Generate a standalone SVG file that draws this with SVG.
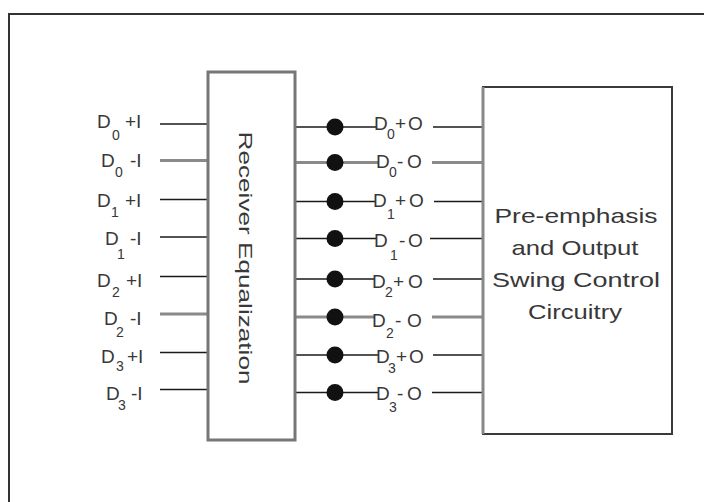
<svg xmlns="http://www.w3.org/2000/svg" width="704" height="502" viewBox="0 0 704 502">
<style>
text{font-family:"Liberation Sans",Arial,sans-serif;fill:#383838;font-size:19px}
.sub{font-size:14px}
.big{font-size:21px;text-anchor:middle}
.k{stroke:#1a1a1a;stroke-width:1.6;fill:none}
.g{stroke:#8a8a8a;stroke-width:3;fill:none}
.dot{fill:#111}
</style>
<rect width="704" height="502" fill="#fff"/>
<path d="M9,502 V14 H704" fill="none" stroke="#333" stroke-width="2"/>
<g id="connectors">
  <line class="k" x1="160" y1="124" x2="208" y2="124"/>
  <line class="g" x1="160" y1="160.5" x2="208" y2="160.5"/>
  <line class="k" x1="160" y1="199.5" x2="208" y2="199.5"/>
  <line class="k" x1="160" y1="237" x2="208" y2="237"/>
  <line class="k" x1="160" y1="276.5" x2="208" y2="276.5"/>
  <line class="g" x1="160" y1="314" x2="208" y2="314"/>
  <line class="k" x1="160" y1="352.5" x2="208" y2="352.5"/>
  <line class="k" x1="160" y1="389.5" x2="208" y2="389.5"/>

  <line class="k" x1="295" y1="127" x2="376" y2="127"/>
  <line class="k" x1="433" y1="127" x2="483" y2="127"/>
  <line class="g" x1="295" y1="162.5" x2="378" y2="162.5"/>
  <line class="g" x1="432" y1="162.5" x2="483" y2="162.5"/>
  <line class="k" x1="295" y1="201.5" x2="375" y2="201.5"/>
  <line class="k" x1="434" y1="201.5" x2="483" y2="201.5"/>
  <line class="k" x1="295" y1="238.5" x2="376" y2="238.5"/>
  <line class="k" x1="430" y1="238.5" x2="483" y2="238.5"/>
  <line class="k" x1="295" y1="279" x2="374" y2="279"/>
  <line class="k" x1="433" y1="279" x2="483" y2="279"/>
  <line class="g" x1="295" y1="317" x2="374" y2="317"/>
  <line class="g" x1="432" y1="317" x2="483" y2="317"/>
  <line class="k" x1="295" y1="355" x2="378" y2="355"/>
  <line class="k" x1="433" y1="355" x2="483" y2="355"/>
  <line class="k" x1="295" y1="392.5" x2="378" y2="392.5"/>
  <line class="k" x1="432" y1="392.5" x2="483" y2="392.5"/>
</g>
<g id="receiver-equalization">
  <rect x="208" y="72" width="87" height="368" fill="#fff" stroke="#777" stroke-width="3"/>
  <text transform="translate(239,258) rotate(90)" text-anchor="middle" font-size="20" textLength="253" lengthAdjust="spacingAndGlyphs">Receiver Equalization</text>
</g>
<g id="pre-emphasis">
  <rect x="483" y="87" width="189" height="347" fill="#fff" stroke="#3a3a3a" stroke-width="2"/>
  <line x1="483" y1="87" x2="483" y2="434" stroke="#888" stroke-width="3"/>
  <text class="big" x="576" y="223" textLength="163" lengthAdjust="spacingAndGlyphs">Pre-emphasis</text>
  <text class="big" x="575" y="255" textLength="127" lengthAdjust="spacingAndGlyphs">and Output</text>
  <text class="big" x="576" y="287" textLength="168" lengthAdjust="spacingAndGlyphs">Swing Control</text>
  <text class="big" x="575" y="319" textLength="94" lengthAdjust="spacingAndGlyphs">Circuitry</text>
</g>
<g id="input-labels">
  <text id="in-d0p" x="97" y="128">D<tspan class="sub" x="112" y="140">0</tspan><tspan x="125" y="128">+I</tspan></text>
  <text id="in-d0m" x="101" y="167">D<tspan class="sub" x="115" y="177">0</tspan><tspan x="130" y="167">-I</tspan></text>
  <text id="in-d1p" x="97" y="207">D<tspan class="sub" x="111" y="217">1</tspan><tspan x="125" y="207">+I</tspan></text>
  <text id="in-d1m" x="105" y="245">D<tspan class="sub" x="117" y="259">1</tspan><tspan x="130" y="245">-I</tspan></text>
  <text id="in-d2p" x="97" y="287">D<tspan class="sub" x="112" y="297">2</tspan><tspan x="126" y="287">+I</tspan></text>
  <text id="in-d2m" x="104" y="325">D<tspan class="sub" x="116" y="337">2</tspan><tspan x="130" y="325">-I</tspan></text>
  <text id="in-d3p" x="101" y="363">D<tspan class="sub" x="116" y="371">3</tspan><tspan x="127" y="363">+I</tspan></text>
  <text id="in-d3m" x="106" y="400">D<tspan class="sub" x="118" y="410">3</tspan><tspan x="131" y="400">-I</tspan></text>
</g>
<g id="dots">
  <circle class="dot" cx="335" cy="127" r="8.5"/>
  <circle class="dot" cx="335" cy="162.5" r="8.5"/>
  <circle class="dot" cx="335" cy="201.5" r="8.5"/>
  <circle class="dot" cx="335" cy="238.5" r="8.5"/>
  <circle class="dot" cx="335" cy="279" r="8.5"/>
  <circle class="dot" cx="335" cy="317" r="8.5"/>
  <circle class="dot" cx="335" cy="355" r="8.5"/>
  <circle class="dot" cx="335" cy="392.5" r="8.5"/>
</g>
<g id="output-labels">
  <text id="out-d0p" x="374" y="130">D<tspan class="sub" x="387" y="139">0</tspan><tspan x="395" y="130">+</tspan><tspan x="408" y="130">O</tspan></text>
  <text id="out-d0m" x="376" y="168">D<tspan class="sub" x="389" y="177">0</tspan><tspan x="397" y="168">-</tspan><tspan x="407" y="168">O</tspan></text>
  <text id="out-d1p" x="373" y="207">D<tspan class="sub" x="387" y="219">1</tspan><tspan x="395" y="207">+</tspan><tspan x="409" y="207">O</tspan></text>
  <text id="out-d1m" x="374" y="247">D<tspan class="sub" x="390" y="260">1</tspan><tspan x="399" y="247">-</tspan><tspan x="408" y="247">O</tspan></text>
  <text id="out-d2p" x="372" y="288">D<tspan class="sub" x="385" y="297">2</tspan><tspan x="393" y="288">+</tspan><tspan x="408" y="288">O</tspan></text>
  <text id="out-d2m" x="372" y="327">D<tspan class="sub" x="386" y="338">2</tspan><tspan x="395" y="327">-</tspan><tspan x="407" y="327">O</tspan></text>
  <text id="out-d3p" x="376" y="363">D<tspan class="sub" x="388" y="373">3</tspan><tspan x="396" y="363">+</tspan><tspan x="409" y="363">O</tspan></text>
  <text id="out-d3m" x="376" y="400">D<tspan class="sub" x="389" y="412">3</tspan><tspan x="397" y="400">-</tspan><tspan x="407" y="400">O</tspan></text>
</g>
</svg>
